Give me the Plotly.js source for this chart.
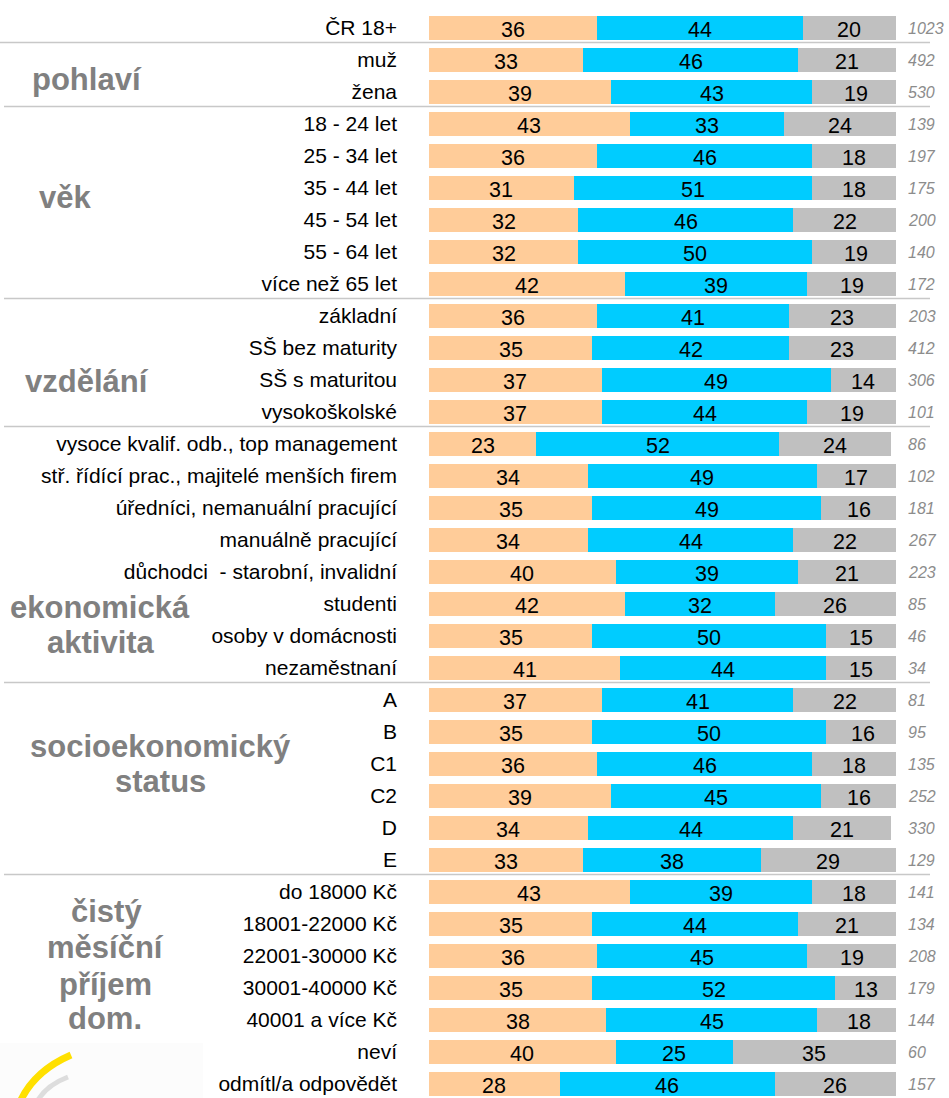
<!DOCTYPE html>
<html>
<head>
<meta charset="utf-8">
<script src="https://cdn.plot.ly/plotly-3.0.1.min.js"></script>
<style>html,body{margin:0;padding:0;background:#fff;}#chart{width:949px;height:1098px;}</style>
</head>
<body>
<div id="chart"></div>
<script>
// ---- data ----
const categories = ["ČR 18+","muž","žena","18 - 24 let","25 - 34 let","35 - 44 let","45 - 54 let","55 - 64 let","více než 65 let","základní","SŠ bez maturity","SŠ s maturitou","vysokoškolské","vysoce kvalif. odb., top management","stř. řídící prac., majitelé menších firem","úředníci, nemanuální pracující","manuálně pracující","důchodci  - starobní, invalidní","studenti","osoby v domácnosti","nezaměstnaní","A","B","C1","C2","D","E","do 18000 Kč","18001-22000 Kč","22001-30000 Kč","30001-40000 Kč","40001 a více Kč","neví","odmítl/a odpovědět"];
const series1 = [36,33,39,43,36,31,32,32,42,36,35,37,37,23,34,35,34,40,42,35,41,37,35,36,39,34,33,43,35,36,35,38,40,28];
const series2 = [44,46,43,33,46,51,46,50,39,41,42,49,44,52,49,49,44,39,32,50,44,41,50,46,45,44,38,39,44,45,52,45,25,46];
const series3 = [20,21,19,24,18,18,22,19,19,23,23,14,19,24,17,16,22,21,26,15,15,22,16,18,16,21,29,18,21,19,13,18,35,26];
const counts = [1023,492,530,139,197,175,200,140,172,203,412,306,101,86,102,181,267,223,85,46,34,81,95,135,252,330,129,141,134,208,179,144,60,157];
// group labels: lines of text and the row index around which they sit
const groupLines = [
  {text:"pohlaví", row:1.6, cx:87},
  {text:"věk", row:5.3, cx:65},
  {text:"vzdělání", row:11.05, cx:87},
  {text:"ekonomická", row:18.1, cx:100},
  {text:"aktivita", row:19.2, cx:101},
  {text:"socioekonomický", row:22.45, cx:160},
  {text:"status", row:23.55, cx:160},
  {text:"čistý", row:27.6, cx:106},
  {text:"měsíční", row:28.72, cx:105},
  {text:"příjem", row:29.9, cx:105},
  {text:"dom.", row:30.95, cx:105}
];
const groupEnds = [0,2,8,12,20,26]; // last row index of each block

// ---- layout geometry ----
const W = 949, H = 1098;
const L = 429, R = 53, T = 12, B = 0;
const PW = W - L - R, PH = H - T - B;
const px2x = p => (p - L) / PW;
const py2y = p => (H - B - p) / PH;

const colors = ["#FFCC99", "#00CCFF", "#C0C0C0"];
const series = [series1, series2, series3];

const data = series.map((vals, k) => ({
  type:"bar", orientation:"h", y:categories, x:vals,
  marker:{color:colors[k], line:{width:0}}, width:0.75, hoverinfo:"skip", showlegend:false
}));

const annotations = [];
// value labels centred in each segment (positions derived from the data through the x scale)
series.forEach((vals, k) => {
  vals.forEach((v, i) => {
    let base = 0; for (let j = 0; j < k; j++) base += series[j][i];
    annotations.push({xref:"x", yref:"y", x:base + v/2, y:categories[i], text:String(v), showarrow:false,
      xanchor:"center", yanchor:"middle", yshift:-1.5,
      font:{family:"Liberation Sans, Arial, sans-serif", size:21.5, color:"#000"}});
  });
});
counts.forEach((n, i) => {
  annotations.push({xref:"paper", yref:"y", x:px2x(906), y:categories[i], text:String(n), showarrow:false,
    xanchor:"left", yanchor:"middle",
    font:{family:"Liberation Sans, Arial, sans-serif", size:16, color:"#8C8C8C", style:"italic"}});
});
groupLines.forEach(g => {
  annotations.push({xref:"paper", yref:"y", x:px2x(g.cx), y:g.row, text:"<b>"+g.text+"</b>", showarrow:false,
    xanchor:"center", yanchor:"middle",
    font:{family:"Liberation Sans, Arial, sans-serif", size:31, color:"#808080"}});
});

const shapes = [];
groupEnds.forEach((r, k) => {
  shapes.push({type:"line", xref:"paper", yref:"y", x0:px2x(k===0?0:4), x1:px2x(930), y0:r+0.45, y1:r+0.45,
    line:{color:"#C8C8C8", width:1.5}, layer:"below"});
});
// logo fragment bottom-left
shapes.push({type:"rect", xref:"paper", yref:"paper", x0:px2x(0), x1:px2x(203), y0:py2y(1098), y1:py2y(1043),
  fillcolor:"#FCFCFC", line:{width:0}, layer:"below"});
function pth(pts){ // M x y Q cx cy x y in pixels
  return `M ${px2x(pts[0])} ${py2y(pts[1])} Q ${px2x(pts[2])} ${py2y(pts[3])} ${px2x(pts[4])} ${py2y(pts[5])}`;
}
shapes.push({type:"path", xref:"paper", yref:"paper", path:pth([38,1100,47,1085,68,1077]), line:{color:"#DDDDDD", width:5}});
shapes.push({type:"path", xref:"paper", yref:"paper", path:pth([20,1102,34,1071,71,1055]), line:{color:"#FFE000", width:7}});

const layout = {
  width:W, height:H, margin:{l:L, r:R, t:T, b:B, pad:0},
  paper_bgcolor:"#fff", plot_bgcolor:"#fff",
  barmode:"stack", showlegend:false,
  xaxis:{range:[0,100], visible:false, fixedrange:true},
  yaxis:{type:"category", categoryorder:"array", categoryarray:categories,
    range:[-0.5 + PH/32, -0.5], showgrid:false, zeroline:false, showline:false, ticks:"",
    tickfont:{family:"Liberation Sans, Arial, sans-serif", size:21, color:"#000"},
    ticklabelstandoff:31, automargin:false, fixedrange:true},
  annotations:annotations, shapes:shapes,
  font:{family:"Liberation Sans, Arial, sans-serif"}
};
Plotly.newPlot("chart", data, layout, {staticPlot:true, displayModeBar:false});
</script>
</body>
</html>
